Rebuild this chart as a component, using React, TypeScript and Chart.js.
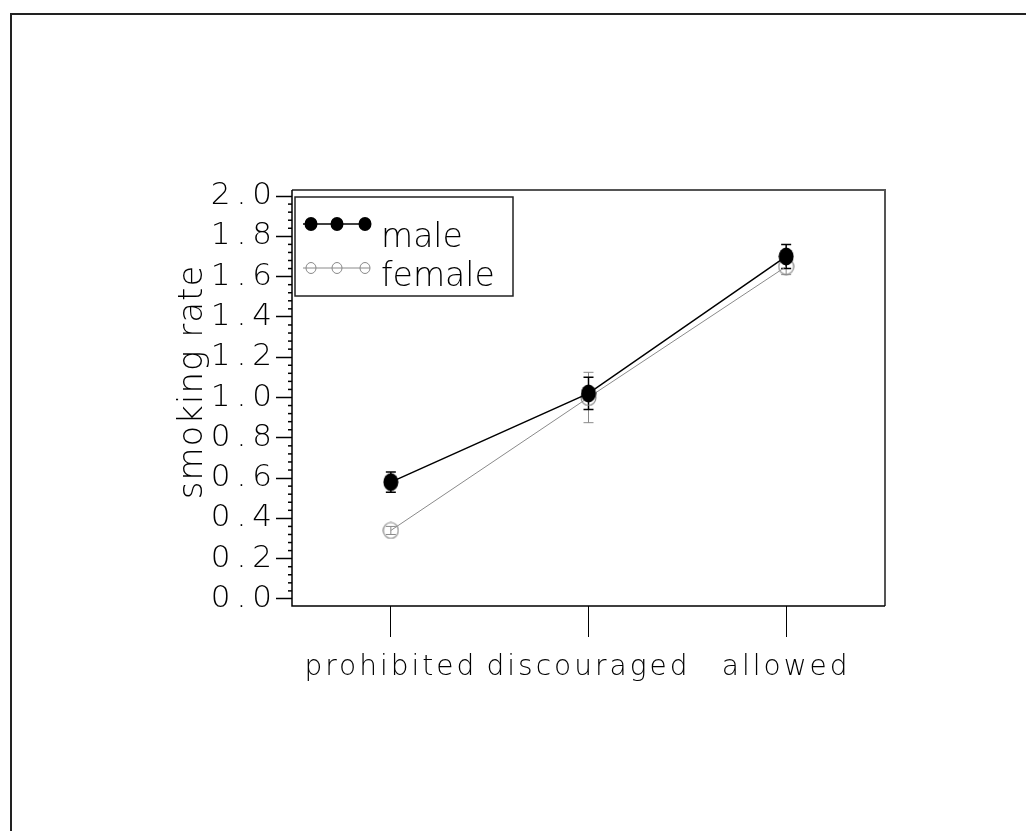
import React, { useEffect, useRef } from 'react';
import { Chart, registerables } from 'chart.js';

Chart.register(...registerables);

// ---- data ----
const categories = ['prohibited', 'discouraged', 'allowed'];
const seriesNames = ['male', 'female'];
const maleRate = [0.58, 1.02, 1.7];
const maleErr = [0.05, 0.08, 0.06];
const femaleRate = [0.34, 1.0, 1.65];
const femaleErr = [0.02, 0.125, 0.04];
const yTickValues = [0, 0.2, 0.4, 0.6, 0.8, 1.0, 1.2, 1.4, 1.6, 1.8, 2.0];
const yTickLabels = ['0.0', '0.2', '0.4', '0.6', '0.8', '1.0', '1.2', '1.4', '1.6', '1.8', '2.0'];
const yMinorStep = 0.04;
const yTitle = 'smoking rate';

const FONT = "'DejaVu Sans', sans-serif";
const WEIGHT = 200;
const MALE_COLOR = '#000000';
const FEMALE_COLOR = '#8a8a8a';

function withLetterSpacing(px: number) {
  return (scale: any) => {
    if (scale.__ls) return;
    scale.__ls = true;
    const orig = scale.drawLabels;
    scale.drawLabels = function (ca: any) {
      const ctx = this.ctx;
      ctx.save();
      ctx.letterSpacing = px + 'px';
      orig.call(this, ca);
      ctx.restore();
    };
  };
}

function makeMarker(w: number, h: number, filled: boolean, color: string) {
  const c = document.createElement('canvas');
  c.width = w;
  c.height = h;
  const g = c.getContext('2d')!;
  g.beginPath();
  if (filled) {
    g.ellipse(w / 2, h / 2, w / 2 - 0.5, h / 2 - 0.5, 0, 0, Math.PI * 2);
    g.fillStyle = color;
    g.fill();
  } else {
    g.ellipse(w / 2, h / 2, w / 2 - 1, h / 2 - 1, 0, 0, Math.PI * 2);
    g.strokeStyle = color;
    g.lineWidth = 1.2;
    g.stroke();
  }
  return c;
}

const errorBarsPlugin = {
  id: 'errorBars',
  beforeDatasetsDraw(chart: any) {
    const ctx = chart.ctx;
    const y = chart.scales.y;
    const errs = [maleErr, femaleErr];
    const vals = [maleRate, femaleRate];
    const cols = [MALE_COLOR, FEMALE_COLOR];
    ctx.save();
    for (let d = 1; d >= 0; d--) {
      const meta = chart.getDatasetMeta(d);
      ctx.strokeStyle = cols[d];
      ctx.lineWidth = d === 0 ? 1.5 : 1;
      meta.data.forEach((pt: any, j: number) => {
        const x = pt.x;
        const yt = y.getPixelForValue(vals[d][j] + errs[d][j]);
        const yb = y.getPixelForValue(vals[d][j] - errs[d][j]);
        ctx.beginPath();
        ctx.moveTo(x, yt);
        ctx.lineTo(x, yb);
        ctx.moveTo(x - 5, yt);
        ctx.lineTo(x + 5, yt);
        ctx.moveTo(x - 5, yb);
        ctx.lineTo(x + 5, yb);
        ctx.stroke();
      });
    }
    ctx.restore();
  },
};

const framePlugin = {
  id: 'frameAndMinor',
  afterDraw(chart: any) {
    const ctx = chart.ctx;
    const ca = chart.chartArea;
    const y = chart.scales.y;
    ctx.save();
    // top & right border (grey)
    ctx.strokeStyle = '#555555';
    ctx.lineWidth = 2;
    ctx.beginPath();
    ctx.moveTo(ca.left, ca.top);
    ctx.lineTo(ca.right, ca.top);
    ctx.lineTo(ca.right, ca.bottom);
    ctx.stroke();
    // left & bottom (black)
    ctx.strokeStyle = '#000000';
    ctx.lineWidth = 1.5;
    ctx.beginPath();
    ctx.moveTo(ca.left, ca.top);
    ctx.lineTo(ca.left, ca.bottom);
    ctx.lineTo(ca.right, ca.bottom);
    ctx.stroke();
    // minor ticks
    ctx.lineWidth = 1.5;
    for (let k = 0; k * yMinorStep <= 2.0001; k++) {
      if (k % 5 === 0) continue;
      const py = y.getPixelForValue(k * yMinorStep);
      ctx.beginPath();
      ctx.moveTo(ca.left - 4, py);
      ctx.lineTo(ca.left, py);
      ctx.stroke();
    }
    // y title
    ctx.fillStyle = '#000000';
    ctx.font = `${WEIGHT} 34px ${FONT}`;
    ctx.letterSpacing = '1px';
    ctx.textAlign = 'center';
    ctx.textBaseline = 'alphabetic';
    ctx.translate(202, 382);
    ctx.rotate(-Math.PI / 2);
    ctx.fillText(yTitle, 0, 0);
    ctx.restore();

    // legend
    ctx.save();
    const bx = ca.left + 3;
    const by = ca.top + 7;
    ctx.fillStyle = '#ffffff';
    ctx.fillRect(bx, by, 218, 99);
    ctx.strokeStyle = '#222222';
    ctx.lineWidth = 1.5;
    ctx.strokeRect(bx, by, 218, 99);
    const rows = [
      { y: by + 27, color: MALE_COLOR, filled: true, lw: 1.5, base: by + 50 },
      { y: by + 71, color: FEMALE_COLOR, filled: false, lw: 1, base: by + 89 },
    ];
    rows.forEach((r, i) => {
      ctx.strokeStyle = r.color;
      ctx.lineWidth = r.lw;
      ctx.beginPath();
      ctx.moveTo(bx + 8, r.y);
      ctx.lineTo(bx + 75, r.y);
      ctx.stroke();
      [bx + 16, bx + 42, bx + 70].forEach((mx) => {
        ctx.beginPath();
        if (r.filled) {
          ctx.ellipse(mx, r.y, 6.5, 7, 0, 0, Math.PI * 2);
          ctx.fillStyle = r.color;
          ctx.fill();
        } else {
          ctx.ellipse(mx, r.y, 5, 5.5, 0, 0, Math.PI * 2);
          ctx.lineWidth = 1;
          ctx.stroke();
        }
      });
      ctx.fillStyle = '#000000';
      ctx.font = `${WEIGHT} 33px ${FONT}`;
      ctx.letterSpacing = '0px';
      ctx.textAlign = 'left';
      ctx.textBaseline = 'alphabetic';
      ctx.fillText(seriesNames[i], bx + 86, r.base);
    });
    ctx.restore();
  },
};

export default function App() {
  const ref = useRef<HTMLCanvasElement | null>(null);

  useEffect(() => {
    if (!ref.current) return;
    const xSpacing = withLetterSpacing(3);
    const ySpacing = withLetterSpacing(6);
    const maleMarker = makeMarker(16, 19, true, MALE_COLOR);
    const femaleMarker = makeMarker(17, 18, false, FEMALE_COLOR);
    const chart = new Chart(ref.current, {
      type: 'line',
      data: {
        labels: categories,
        datasets: [
          {
            label: seriesNames[0],
            data: maleRate,
            borderColor: MALE_COLOR,
            backgroundColor: MALE_COLOR,
            borderWidth: 1.5,
            pointRadius: 8,
            pointStyle: maleMarker,
            pointBackgroundColor: MALE_COLOR,
            pointBorderColor: MALE_COLOR,
            tension: 0,
          },
          {
            label: seriesNames[1],
            data: femaleRate,
            borderColor: FEMALE_COLOR,
            backgroundColor: 'rgba(0,0,0,0)',
            borderWidth: 1,
            pointRadius: 8,
            pointStyle: femaleMarker,
            pointBackgroundColor: 'rgba(0,0,0,0)',
            pointBorderColor: FEMALE_COLOR,
            tension: 0,
          },
        ],
      },
      options: {
        responsive: false,
        animation: false,
        events: [],
        layout: { padding: { left: 0, top: 190, right: 141, bottom: 0 } },
        plugins: {
          legend: { display: false },
          tooltip: { enabled: false },
          title: { display: false },
        },
        scales: {
          x: {
            type: 'category',
            offset: true,
            border: { display: false },
            grid: {
              offset: false,
              drawOnChartArea: false,
              drawTicks: true,
              tickLength: 31,
              tickColor: '#000000',
              tickWidth: 1,
            },
            ticks: {
              color: '#000000',
              font: { family: FONT, size: 28, weight: WEIGHT },
              padding: 14,
              maxRotation: 0,
              autoSkip: false,
            },
            afterFit(scale: any) {
              scale.height = 831 - 606;
              xSpacing(scale);
            },
          },
          y: {
            type: 'linear',
            min: -0.035,
            max: 2.03,
            border: { display: false },
            grid: {
              drawOnChartArea: false,
              drawTicks: true,
              tickLength: 16,
              tickColor: '#000000',
              tickWidth: 1.5,
            },
            afterBuildTicks(scale: any) {
              scale.ticks = yTickValues.map((v) => ({ value: v }));
            },
            ticks: {
              color: '#000000',
              font: { family: FONT, size: 31, weight: WEIGHT },
              padding: -2,
              autoSkip: false,
              callback: (_v: any, i: number) => yTickLabels[i],
            },
            afterFit(scale: any) {
              scale.width = 292;
              ySpacing(scale);
            },
          },
        },
      },
      plugins: [errorBarsPlugin, framePlugin],
    } as any);
    return () => chart.destroy();
  }, []);

  return (
    <div
      style={{
        position: 'absolute',
        left: 0,
        top: 0,
        width: 1026,
        height: 831,
        overflow: 'hidden',
        background: '#ffffff',
      }}
    >
      <div
        style={{
          position: 'absolute',
          left: 10,
          top: 13,
          width: 1100,
          height: 900,
          border: '2px solid #222222',
          boxSizing: 'border-box',
        }}
      />
      <canvas
        ref={ref}
        width={1026}
        height={831}
        style={{ position: 'absolute', left: 0, top: 0, width: 1026, height: 831 }}
      />
    </div>
  );
}
